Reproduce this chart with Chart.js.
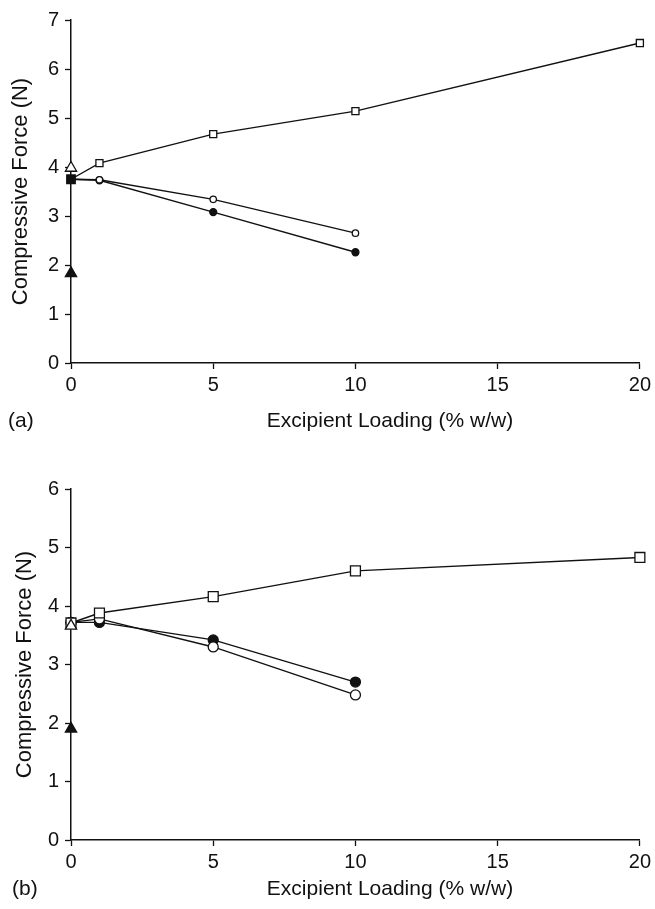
<!DOCTYPE html>
<html>
<head>
<meta charset="utf-8">
<script src="https://cdn.jsdelivr.net/npm/chart.js@4/dist/chart.umd.min.js"></script>
<style>
  html, body { margin: 0; padding: 0; background: #fff; }
  #wrap { position: relative; width: 655px; height: 909px; }
  #panelA { position: absolute; left: 0; top: 0; }
  #panelB { position: absolute; left: 0; top: 450px; }
</style>
</head>
<body>
<div id="wrap">
  <canvas id="panelA" width="655" height="450"></canvas>
  <canvas id="panelB" width="655" height="459"></canvas>
</div>
<script>
// x values (excipient loading, % w/w)
const loading = [0, 1, 5, 10, 20];
const loadingShort = [0, 1, 5, 10];
const loadingZero = [0];

// panel (a)
const aSquares = [3.75, 4.08, 4.67, 5.14, 6.53];
const aOpenCircles = [3.75, 3.74, 3.34, 2.65];
const aFilledCircles = [3.75, 3.73, 3.08, 2.26];
const aOpenTriangle = [3.98];
const aFilledTriangle = [1.83];

// panel (b)
const bSquares = [3.71, 3.88, 4.16, 4.60, 4.83];
const bFilledCircles = [3.72, 3.72, 3.42, 2.70];
const bOpenCircles = [3.72, 3.78, 3.30, 2.48];
const bOpenTriangle = [3.66];
const bFilledTriangle = [1.90];

// axes
const xMax = 20, xStep = 5;
const aYMax = 7, bYMax = 6, yStep = 1;
const xTitle = 'Excipient Loading (% w/w)';
const yTitle = 'Compressive Force (N)';

const FONT = '"Liberation Sans", Arial, sans-serif';

function pts(xs, ys) {
    return ys.map((y, i) => ({ x: xs[i], y: y }));
}

function series(xs, ys, style, size, fill, showLine) {
    return {
        data: pts(xs, ys),
        showLine: showLine,
        clip: false,
        borderColor: '#111',
        borderWidth: 1.4,
        pointStyle: style,
        pointRadius: size,
        pointBorderWidth: 1.3,
        pointBorderColor: '#111',
        pointBackgroundColor: fill,
        fill: false,
        tension: 0
    };
}

// panel tag "(a)"/"(b)" and the x title, which sits right of centre in the original
const panelText = {
    id: 'panelText',
    afterDraw(chart, args, opts) {
        const ctx = chart.ctx;
        ctx.save();
        ctx.font = '21px ' + FONT;
        ctx.fillStyle = '#111';
        ctx.textBaseline = 'middle';
        ctx.textAlign = 'left';
        ctx.fillText(opts.tag, opts.tagX, opts.y);
        ctx.textAlign = 'center';
        ctx.fillText(xTitle, opts.titleX, opts.y);
        ctx.restore();
    }
};

function makeConfig(datasets, yMax, geo) {
    return {
        type: 'line',
        data: { datasets: datasets },
        plugins: [panelText],
        options: {
            responsive: false,
            animation: false,
            layout: { padding: { top: geo.top, right: 15, left: 0, bottom: 0 } },
            plugins: {
                legend: { display: false },
                tooltip: { enabled: false },
                panelText: { tag: geo.tag, tagX: geo.tagX, titleX: 390, y: geo.textY }
            },
            scales: {
                x: {
                    type: 'linear',
                    min: 0, max: xMax,
                    afterFit: s => { s.height = geo.xHeight; },
                    ticks: { stepSize: xStep, color: '#111', padding: 4, font: { size: 20, family: FONT } },
                    grid: { drawOnChartArea: false, drawTicks: true, tickLength: 6, color: '#111', tickColor: '#111', tickWidth: 1.3 },
                    border: { display: true, color: '#111', width: 1.5 }
                },
                y: {
                    type: 'linear',
                    min: 0, max: yMax,
                    afterFit: s => { s.width = 71; },
                    ticks: { stepSize: yStep, color: '#111', padding: 6, font: { size: 20, family: FONT } },
                    grid: { drawOnChartArea: false, drawTicks: true, tickLength: 6, color: '#111', tickColor: '#111', tickWidth: 1.3 },
                    border: { display: true, color: '#111', width: 1.5 },
                    title: { display: true, text: yTitle, color: '#111', font: { size: 22, family: FONT }, padding: { top: geo.yTitlePad, bottom: 0 } }
                }
            }
        }
    };
}

//#region panel (a)
const aSq = series(loading, aSquares, 'rect', 5, '#fff', true);
aSq.pointBackgroundColor = ['#111', '#fff', '#fff', '#fff', '#fff'];
aSq.pointRadius = [6, 5, 5, 5, 5];
const dataA = [
    aSq,
    series(loadingShort, aOpenCircles, 'circle', 3.2, '#fff', true),
    series(loadingShort, aFilledCircles, 'circle', 3.5, '#111', true),
    series(loadingZero, aOpenTriangle, 'triangle', 6.5, '#fff', false),
    series(loadingZero, aFilledTriangle, 'triangle', 6.5, '#111', false)
];
const chartA = new Chart(document.getElementById('panelA'),
    makeConfig(dataA, aYMax, { top: 20, xHeight: 87, yTitlePad: 8, tag: '(a)', tagX: 8, textY: 421 }));
//#endregion

//#region panel (b)
// first dataset is painted last, so the open triangle sits on top of the square
const dataB = [
    series(loadingZero, bOpenTriangle, 'triangle', 6.5, '#fff', false),
    series(loadingZero, bFilledTriangle, 'triangle', 6.5, '#111', false),
    series(loading, bSquares, 'rect', 7, '#fff', true),
    series(loadingShort, bOpenCircles, 'circle', 5, '#fff', true),
    series(loadingShort, bFilledCircles, 'circle', 5, '#111', true)
];
const chartB = new Chart(document.getElementById('panelB'),
    makeConfig(dataB, bYMax, { top: 39, xHeight: 69, yTitlePad: 12, tag: '(b)', tagX: 12, textY: 439 }));
//#endregion
</script>
</body>
</html>
